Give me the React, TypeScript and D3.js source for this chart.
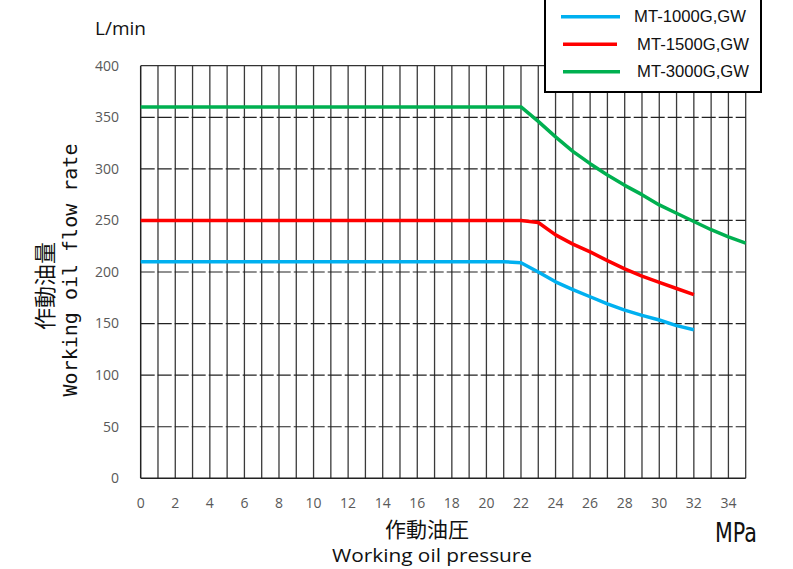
import { scaleLinear, line as d3Line, range } from "d3";

// x: working oil pressure (MPa), y: working oil flow rate (L/min)
const pressureTicks = [0, 2, 4, 6, 8, 10, 12, 14, 16, 18, 20, 22, 24, 26, 28, 30, 32, 34];
const flowTicks = [0, 50, 100, 150, 200, 250, 300, 350, 400];

const seriesNames = ["MT-1000G,GW", "MT-1500G,GW", "MT-3000G,GW"];
const seriesColors = ["#00B0F0", "#FF0000", "#00B050"];

const blueP = [0, 21, 22, 23, 24, 25, 26, 27, 28, 29, 30, 31, 32];
const blueQ = [210, 210, 209, 200, 190.5, 183, 176, 169, 163, 158, 153.5, 148, 144];

const redP = [0, 22, 23, 24, 25, 26, 27, 28, 29, 30, 31, 32];
const redQ = [250, 250, 248, 236, 227, 219.5, 211, 203, 196, 190, 184, 178];

const greenP = [0, 22, 23, 24, 25, 26, 27, 28, 29, 30, 31, 32, 33, 34, 35];
const greenQ = [360, 360, 346, 331, 317, 305, 294, 284, 275, 265, 257, 249, 241, 234, 228];

const allSeries = [
  { p: blueP, q: blueQ },
  { p: redP, q: redQ },
  { p: greenP, q: greenQ },
];

export default function App() {
  const left = 140.7;
  const right = 745.7;
  const top = 65.7;
  const bottom = 478.3;

  const x = scaleLinear().domain([0, 35]).range([left, right]);
  const y = scaleLinear().domain([0, 400]).range([bottom, top]);

  const lineGen = d3Line<[number, number]>()
    .x((d) => x(d[0]))
    .y((d) => y(d[1]));

  const gridX = range(1, 36);
  const tickFont = "'Open Sans', sans-serif";

  return (
    <div style={{ position: "fixed", left: 0, top: 0 }}>
      <svg width={793} height={569} style={{ display: "block", background: "#fff" }}>
        {/* vertical grid, one per MPa */}
        {gridX.map((v) => (
          <line
            key={`vx-${v}`}
            x1={x(v)}
            x2={x(v)}
            y1={y(400)}
            y2={y(0)}
            stroke="#3a3a3a"
            strokeWidth={1.3}
          />
        ))}

        {/* horizontal dashed grid */}
        {flowTicks.slice(1, -1).map((v) => (
          <line
            key={`hy-${v}`}
            x1={x(0)}
            x2={x(35)}
            y1={y(v)}
            y2={y(v)}
            stroke="#222"
            strokeWidth={1.2}
            strokeDasharray="14 3"
          />
        ))}

        <line x1={x(0)} x2={x(35)} y1={y(400)} y2={y(400)} stroke="#333" strokeWidth={1.3} />
        <line x1={x(0)} x2={x(35)} y1={y(0)} y2={y(0)} stroke="#222" strokeWidth={1.5} />
        <line x1={x(0)} x2={x(0)} y1={y(0)} y2={y(400)} stroke="#222" strokeWidth={1.5} />

        {/* y tick labels */}
        {flowTicks.map((v) => (
          <text
            key={`yt-${v}`}
            x={119}
            y={y(v)}
            dy="0.35em"
            textAnchor="end"
            fontFamily={tickFont}
            fontSize={14}
            fill="#595959"
          >
            {v}
          </text>
        ))}

        {/* x tick labels */}
        {pressureTicks.map((v) => (
          <text
            key={`xt-${v}`}
            x={x(v)}
            y={508}
            textAnchor="middle"
            fontFamily={tickFont}
            fontSize={14}
            fill="#595959"
          >
            {v}
          </text>
        ))}

        {/* series */}
        {allSeries.map((s, i) => (
          <path
            key={`s-${i}`}
            d={lineGen(s.p.map((p, j) => [p, s.q[j]] as [number, number])) ?? ""}
            fill="none"
            stroke={seriesColors[i]}
            strokeWidth={3.5}
            strokeLinejoin="round"
          />
        ))}

        {/* legend */}
        <rect x={545} y={-3} width={216} height={95} fill="#fff" stroke="#000" strokeWidth={2} />
        {seriesNames.map((name, i) => {
          const ly = 16.7 + i * 27.5;
          return (
            <g key={`lg-${i}`}>
              <line
                x1={i === 0 ? 561 : 563}
                x2={i === 1 ? 617 : 620}
                y1={ly}
                y2={ly}
                stroke={seriesColors[i]}
                strokeWidth={3.5}
              />
              <text
                x={i === 0 ? 634 : 637}
                y={ly}
                dy="0.36em"
                fontFamily="'Liberation Sans', Arial, sans-serif"
                fontSize={16}
                textLength={112}
                lengthAdjust="spacingAndGlyphs"
                fill="#111"
              >
                {name}
              </text>
            </g>
          );
        })}

        {/* unit label */}
        <text x={95} y={35} fontFamily={tickFont} fontSize={19} fill="#111">
          L/min
        </text>

        {/* y axis titles */}
        <text
          transform="translate(53,286) rotate(-90)"
          textAnchor="middle"
          fontFamily="'Noto Sans CJK JP', sans-serif"
          fontSize={22}
          fill="#111"
        >
          作動油量
        </text>
        <text
          transform="translate(77,270) rotate(-90)"
          textAnchor="middle"
          fontFamily="'DejaVu Sans Mono', monospace"
          fontSize={20}
          fill="#111"
        >
          Working oil flow rate
        </text>

        {/* x axis titles */}
        <text
          x={427}
          y={537}
          textAnchor="middle"
          fontFamily="'Noto Sans CJK JP', sans-serif"
          fontSize={21}
          fill="#111"
        >
          作動油圧
        </text>
        <text
          x={432}
          y={562}
          textAnchor="middle"
          fontFamily={tickFont}
          fontSize={18}
          textLength={200}
          lengthAdjust="spacingAndGlyphs"
          fill="#111"
        >
          Working oil pressure
        </text>
        <text
          x={715}
          y={542}
          fontFamily="'DejaVu Sans', sans-serif"
          fontSize={26}
          textLength={42}
          lengthAdjust="spacingAndGlyphs"
          fill="#111"
        >
          MPa
        </text>
      </svg>
    </div>
  );
}
